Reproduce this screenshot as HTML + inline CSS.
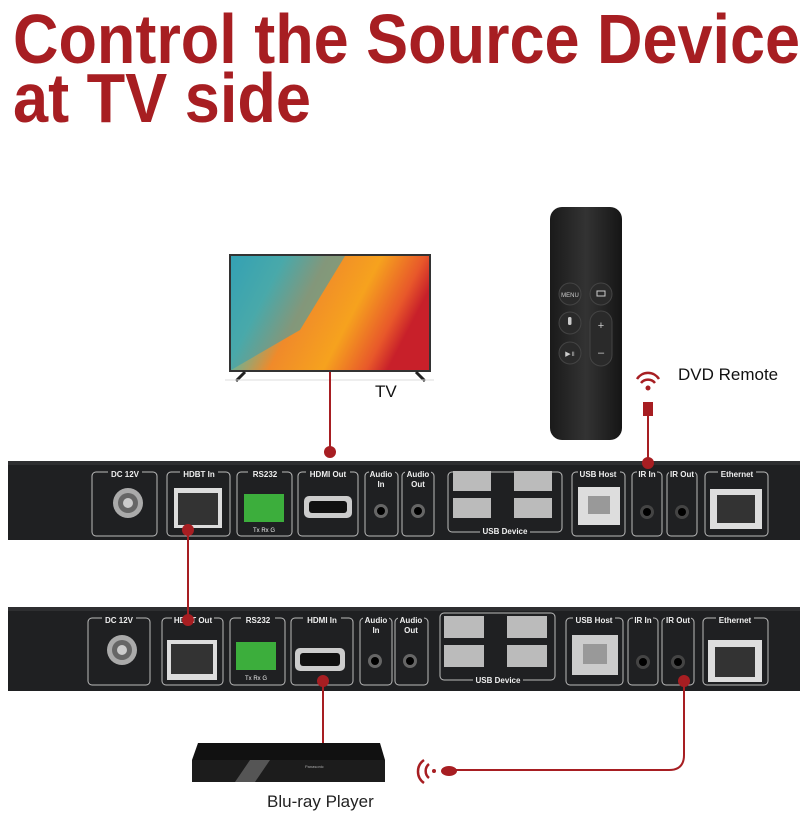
<!DOCTYPE html>
<html><head><meta charset="utf-8"><style>
html,body{margin:0;padding:0;background:#fff;}
svg{display:block;}
text{font-family:"Liberation Sans",sans-serif;}
</style></head><body>
<svg width="810" height="815" viewBox="0 0 810 815" xmlns="http://www.w3.org/2000/svg">
<defs>
<linearGradient id="tv" x1="0" y1="0" x2="1" y2="0.3">
<stop offset="0" stop-color="#2aa3b8"/><stop offset="0.25" stop-color="#5fb6a0"/>
<stop offset="0.45" stop-color="#f08a2a"/><stop offset="0.7" stop-color="#f6a21e"/>
<stop offset="0.9" stop-color="#e8582a"/><stop offset="1" stop-color="#c8202a"/>
</linearGradient>
<linearGradient id="rem" x1="0" y1="0" x2="1" y2="0">
<stop offset="0" stop-color="#1a1a1a"/><stop offset="0.5" stop-color="#333"/><stop offset="1" stop-color="#151515"/>
</linearGradient>
</defs>
<g fill="#a71e22" font-weight="bold">
<text x="13" y="63" font-size="70" textLength="787" lengthAdjust="spacingAndGlyphs">Control the Source Device</text>
<text x="13" y="122" font-size="70" textLength="298" lengthAdjust="spacingAndGlyphs">at TV side</text>
</g>
<!-- TV -->
<rect x="229" y="254" width="202" height="118" fill="#333"/>
<rect x="231" y="256" width="198" height="114" fill="url(#tv)"/>
<path d="M231 256 L345 256 L300 330 L231 370Z" fill="#3aa0b0" opacity="0.6"/>
<path d="M245 372 L236 381 M416 372 L425 381" stroke="#222" stroke-width="3"/>
<line x1="225" y1="380" x2="434" y2="380" stroke="#ddd" stroke-width="1"/>
<text x="375" y="397" font-size="17" fill="#111">TV</text>
<!-- remote -->
<rect x="550" y="207" width="72" height="233" rx="12" fill="url(#rem)"/>
<circle cx="570" cy="294" r="11" fill="#2a2a2a" stroke="#444"/>
<text x="570" y="297" font-size="6" fill="#ccc" text-anchor="middle">MENU</text>
<circle cx="601" cy="294" r="11" fill="#2a2a2a" stroke="#444"/>
<rect x="597" y="291" width="8" height="5" fill="none" stroke="#ccc" stroke-width="1"/>
<circle cx="570" cy="323" r="11" fill="#2a2a2a" stroke="#444"/>
<rect x="568" y="317" width="3.5" height="8" rx="1.5" fill="#ccc"/>
<rect x="590" y="311" width="22" height="55" rx="11" fill="#2a2a2a" stroke="#444"/>
<text x="601" y="329" font-size="11" fill="#ccc" text-anchor="middle">+</text>
<text x="601" y="356" font-size="11" fill="#ccc" text-anchor="middle">–</text>
<circle cx="570" cy="353" r="11" fill="#2a2a2a" stroke="#444"/>
<text x="570" y="356" font-size="7" fill="#ccc" text-anchor="middle">▶॥</text>
<text x="678" y="380" font-size="17" fill="#111">DVD Remote</text>
<!-- IR receiver top -->
<g fill="#a71e22">
<circle cx="648" cy="388" r="2.5"/>
<path d="M641 383 A9 9 0 0 1 655 383" stroke="#a71e22" stroke-width="2.5" fill="none"/>
<path d="M637 379 A13 13 0 0 1 659 379" stroke="#a71e22" stroke-width="2.5" fill="none"/>
<rect x="643" y="402" width="10" height="14"/>
</g>
<line x1="648" y1="416" x2="648" y2="462" stroke="#a71e22" stroke-width="2"/>
<line x1="330" y1="372" x2="330" y2="452" stroke="#a71e22" stroke-width="2"/>
<!-- top panel -->
<rect x="8" y="461" width="792" height="79" fill="#1f2022"/>
<rect x="8" y="461" width="792" height="4" fill="#2e2f31"/>
<!-- bottom panel -->
<rect x="8" y="607" width="792" height="84" fill="#1f2022"/>
<rect x="8" y="607" width="792" height="4" fill="#2e2f31"/>
<g fill="none" stroke="#bbb" stroke-width="1">
<rect x="92" y="472" width="65" height="64" rx="4"/><rect x="167" y="472" width="63" height="64" rx="4"/>
<rect x="237" y="472" width="55" height="64" rx="4"/><rect x="298" y="472" width="60" height="64" rx="4"/>
<rect x="365" y="472" width="33" height="64" rx="4"/><rect x="402" y="472" width="32" height="64" rx="4"/>
<rect x="448" y="472" width="114" height="60" rx="4"/><rect x="572" y="472" width="53" height="64" rx="4"/>
<rect x="632" y="472" width="30" height="64" rx="4"/><rect x="667" y="472" width="30" height="64" rx="4"/>
<rect x="705" y="472" width="63" height="64" rx="4"/>
<rect x="88" y="618" width="62" height="67" rx="4"/><rect x="162" y="618" width="61" height="67" rx="4"/>
<rect x="230" y="618" width="55" height="67" rx="4"/><rect x="291" y="618" width="62" height="67" rx="4"/>
<rect x="360" y="618" width="32" height="67" rx="4"/><rect x="395" y="618" width="33" height="67" rx="4"/>
<rect x="440" y="613" width="115" height="67" rx="4"/><rect x="566" y="618" width="57" height="67" rx="4"/>
<rect x="628" y="618" width="30" height="67" rx="4"/><rect x="662" y="618" width="32" height="67" rx="4"/>
<rect x="703" y="618" width="65" height="67" rx="4"/>
</g>
<g font-size="8" fill="#eee" text-anchor="middle" font-weight="bold">
<g>
<rect x="108" y="468" width="34" height="8" fill="#1f2022"/><text x="125" y="477">DC 12V</text>
<rect x="180" y="468" width="38" height="8" fill="#1f2022"/><text x="199" y="477">HDBT In</text>
<rect x="248" y="468" width="34" height="8" fill="#1f2022"/><text x="265" y="477">RS232</text>
<rect x="306" y="468" width="44" height="8" fill="#1f2022"/><text x="328" y="477">HDMI Out</text>
<rect x="369" y="468" width="26" height="8" fill="#1f2022"/><text x="381" y="477">Audio</text><text x="381" y="487">In</text>
<rect x="405" y="468" width="26" height="8" fill="#1f2022"/><text x="418" y="477">Audio</text><text x="418" y="487">Out</text>
<rect x="578" y="468" width="42" height="8" fill="#1f2022"/><text x="598" y="477">USB Host</text>
<rect x="637" y="468" width="20" height="8" fill="#1f2022"/><text x="647" y="477">IR In</text>
<rect x="669" y="468" width="26" height="8" fill="#1f2022"/><text x="682" y="477">IR Out</text>
<rect x="718" y="468" width="38" height="8" fill="#1f2022"/><text x="737" y="477">Ethernet</text>
<rect x="480" y="527" width="50" height="8" fill="#1f2022"/><text x="505" y="534">USB Device</text>
</g>
<g>
<rect x="102" y="614" width="34" height="8" fill="#1f2022"/><text x="119" y="623">DC 12V</text>
<rect x="172" y="614" width="42" height="8" fill="#1f2022"/><text x="193" y="623">HDBT Out</text>
<rect x="241" y="614" width="34" height="8" fill="#1f2022"/><text x="258" y="623">RS232</text>
<rect x="303" y="614" width="38" height="8" fill="#1f2022"/><text x="322" y="623">HDMI In</text>
<rect x="363" y="614" width="26" height="8" fill="#1f2022"/><text x="376" y="623">Audio</text><text x="376" y="633">In</text>
<rect x="398" y="614" width="26" height="8" fill="#1f2022"/><text x="411" y="623">Audio</text><text x="411" y="633">Out</text>
<rect x="573" y="614" width="42" height="8" fill="#1f2022"/><text x="594" y="623">USB Host</text>
<rect x="633" y="614" width="20" height="8" fill="#1f2022"/><text x="643" y="623">IR In</text>
<rect x="665" y="614" width="26" height="8" fill="#1f2022"/><text x="678" y="623">IR Out</text>
<rect x="716" y="614" width="38" height="8" fill="#1f2022"/><text x="735" y="623">Ethernet</text>
<rect x="473" y="676" width="50" height="8" fill="#1f2022"/><text x="498" y="683">USB Device</text>
</g>
</g>
<!-- top ports -->
<g>
<circle cx="128" cy="503" r="15" fill="#aaa"/><circle cx="128" cy="503" r="10" fill="#666"/><circle cx="128" cy="503" r="5" fill="#ccc"/>
<rect x="174" y="488" width="48" height="40" fill="#ddd"/><rect x="178" y="493" width="40" height="32" fill="#333"/>
<rect x="244" y="494" width="40" height="28" fill="#3cae3c"/>
<text x="264" y="532" font-size="6" fill="#eee" text-anchor="middle">Tx  Rx  G</text>
<rect x="304" y="496" width="48" height="22" rx="5" fill="#ccc"/><rect x="309" y="501" width="38" height="12" rx="3" fill="#111"/>
<circle cx="381" cy="511" r="7" fill="#666"/><circle cx="381" cy="511" r="4" fill="#000"/>
<circle cx="418" cy="511" r="7" fill="#666"/><circle cx="418" cy="511" r="4" fill="#000"/>
<rect x="453" y="471" width="38" height="20" fill="#bbb"/><rect x="514" y="471" width="38" height="20" fill="#bbb"/>
<rect x="453" y="498" width="38" height="20" fill="#bbb"/><rect x="514" y="498" width="38" height="20" fill="#bbb"/>
<rect x="578" y="487" width="42" height="38" fill="#ddd"/><rect x="588" y="496" width="22" height="18" fill="#999"/>
<circle cx="647" cy="512" r="7" fill="#444"/><circle cx="647" cy="512" r="4" fill="#000"/>
<circle cx="682" cy="512" r="7" fill="#444"/><circle cx="682" cy="512" r="4" fill="#000"/>
<rect x="710" y="489" width="52" height="40" fill="#ddd"/><rect x="717" y="495" width="38" height="28" fill="#333"/>
</g>
<!-- bottom ports -->
<g>
<circle cx="122" cy="650" r="15" fill="#aaa"/><circle cx="122" cy="650" r="10" fill="#666"/><circle cx="122" cy="650" r="5" fill="#ccc"/>
<rect x="167" y="640" width="50" height="40" fill="#ddd"/><rect x="171" y="644" width="42" height="30" fill="#333"/>
<rect x="236" y="642" width="40" height="28" fill="#3cae3c"/>
<text x="256" y="680" font-size="6" fill="#eee" text-anchor="middle">Tx  Rx  G</text>
<rect x="295" y="648" width="50" height="23" rx="5" fill="#ccc"/><rect x="300" y="653" width="40" height="13" rx="3" fill="#111"/>
<circle cx="375" cy="661" r="7" fill="#666"/><circle cx="375" cy="661" r="4" fill="#000"/>
<circle cx="410" cy="661" r="7" fill="#666"/><circle cx="410" cy="661" r="4" fill="#000"/>
<rect x="444" y="616" width="40" height="22" fill="#bbb"/><rect x="507" y="616" width="40" height="22" fill="#bbb"/>
<rect x="444" y="645" width="40" height="22" fill="#bbb"/><rect x="507" y="645" width="40" height="22" fill="#bbb"/>
<rect x="572" y="635" width="46" height="40" fill="#ccc"/><rect x="583" y="644" width="24" height="20" fill="#999"/>
<circle cx="643" cy="662" r="7" fill="#444"/><circle cx="643" cy="662" r="4" fill="#000"/>
<circle cx="678" cy="662" r="7" fill="#444"/><circle cx="678" cy="662" r="4" fill="#000"/>
<rect x="708" y="640" width="54" height="42" fill="#ddd"/><rect x="715" y="647" width="40" height="30" fill="#333"/>
</g>
<!-- connectors -->
<g stroke="#a71e22" stroke-width="2" fill="none">
<line x1="188" y1="532" x2="188" y2="620"/>
<line x1="323" y1="681" x2="323" y2="743"/>
<path d="M684 681 L684 755 Q684 770 669 770 L455 770"/>
</g>
<g fill="#a71e22">
<circle cx="330" cy="452" r="6"/><circle cx="648" cy="463" r="6"/>
<circle cx="188" cy="530" r="6"/><circle cx="188" cy="620" r="6"/>
<circle cx="323" cy="681" r="6"/><circle cx="684" cy="681" r="6"/>
<ellipse cx="449" cy="771" rx="8" ry="5"/>
<circle cx="434" cy="771" r="2"/>
</g>
<g stroke="#a71e22" stroke-width="2.5" fill="none">
<path d="M429 764 A9 9 0 0 0 429 778"/>
<path d="M424 760 A14 14 0 0 0 424 783"/>
</g>
<!-- bluray -->
<path d="M198 743 L380 743 L385 760 L385 782 L192 782 L192 760Z" fill="#111"/>
<rect x="192" y="760" width="193" height="22" fill="#1c1c1c"/>
<path d="M250 760 L270 760 L255 782 L235 782Z" fill="#555"/>
<text x="305" y="768" font-size="4" fill="#aaa">Panasonic</text>
<text x="267" y="807" font-size="17" fill="#222">Blu-ray Player</text>
</svg>
</body></html>
